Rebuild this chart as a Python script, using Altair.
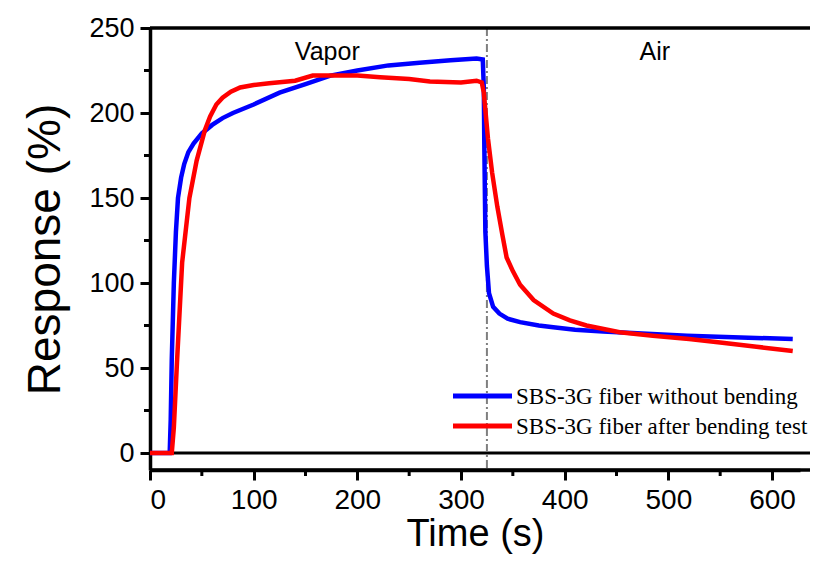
import altair as alt
import pandas as pd

# ---- data ----
blue_name = "SBS-3G fiber without bending"
red_name = "SBS-3G fiber after bending test"

blue_t = [0, 19, 20, 21, 23, 25, 27, 30, 33, 37, 42, 50, 60, 70, 80, 100, 125, 150, 174,
          200, 230, 260, 290, 315, 321, 322, 322.5, 323.5, 325, 327, 331, 337, 345, 357,
          375, 389, 410, 437, 470, 518, 570, 620]
blue_y = [0, 0, 20, 55, 100, 130, 150, 162, 170, 177, 182, 188, 193, 197, 200, 205, 212,
          217, 222, 225, 228, 229.5, 231, 232, 231.5, 215, 180, 130, 110, 94, 86, 82, 79, 77,
          75, 74, 72.5, 71.5, 70.5, 69, 68, 67]

red_t = [0, 21, 23, 26, 31, 38, 45, 53, 58, 64, 70, 78, 87, 100, 115, 140, 157, 174, 200,
         222, 250, 270, 300, 315, 320, 322, 323, 326, 330, 335, 340, 344, 350, 357, 370, 389,
         405, 421, 453, 485, 520, 550, 585, 620]
red_y = [0, 0, 15, 53, 112, 150, 172, 190, 198, 205, 209, 212.5, 215, 216.5, 217.5, 219,
         222, 222, 222, 221, 220, 218.5, 218, 219, 218, 212, 205, 185, 165, 145, 128, 115,
         107, 99, 90, 82, 78, 75, 71, 69, 67, 65, 62.5, 60]

x_ticks = [0, 100, 200, 300, 400, 500, 600]
y_ticks = [0, 50, 100, 150, 200, 250]
x_minor = [50, 150, 250, 350, 450, 550]
y_minor = [25, 75, 125, 175, 225]
switch_t = [325]
zero_level = [0]
annot_text = ["Vapor", "Air"]
annot_t = [171, 487]
annot_y = [231, 231]

# ---- tables ----
blue_df = pd.DataFrame({"t": blue_t, "r": blue_y, "s": blue_name})
red_df = pd.DataFrame({"t": red_t, "r": red_y, "s": red_name})
annot_df = pd.DataFrame({"label": annot_text, "t": annot_t, "r": annot_y})

W, H = 650, 442
EXT = 10  # frame lines run past the plotted range to the picture's edge
xscale = alt.Scale(domain=[0, 627], nice=False, zero=False)
yscale = alt.Scale(domain=[-10, 250], nice=False, zero=False)

axis_common = dict(
    domainColor="black", domainWidth=3.5, tickColor="black", tickWidth=3, tickSize=10,
    labelFont="Liberation Sans", labelColor="black", titleFont="Liberation Sans",
    titleColor="black", titleFontWeight="normal", grid=False,
)

xenc = alt.X("t:Q", scale=xscale, title="Time (s)",
             axis=alt.Axis(values=x_ticks, labelFontSize=28, titleFontSize=38,
                           labelPadding=6, titlePadding=1, **axis_common))
yenc = alt.Y("r:Q", scale=yscale, title="Response (%)",
             axis=alt.Axis(values=y_ticks, labelFontSize=27, titleFontSize=46,
                           labelPadding=6, titlePadding=19, **axis_common))

blue_line = alt.Chart(blue_df).mark_line(color="#0000ff", strokeWidth=4.5).encode(x=xenc, y=yenc)
red_line = alt.Chart(red_df).mark_line(color="#ff0000", strokeWidth=4.5).encode(x="t:Q", y="r:Q")

zero_rule = alt.Chart(pd.DataFrame({"r": zero_level})).mark_rule(
    color="black", strokeWidth=3).encode(y="r:Q", x=alt.value(0), x2=alt.value(W + EXT))

switch_rule = alt.Chart(pd.DataFrame({"t": switch_t})).mark_rule(
    color="#7f7f7f", strokeWidth=2, strokeDash=[8, 3, 2, 3]).encode(x="t:Q")

minor_x = alt.Chart(pd.DataFrame({"t": x_minor})).mark_rule(
    color="black", strokeWidth=3).encode(x="t:Q", y=alt.value(H), y2=alt.value(H + 6))
minor_y = alt.Chart(pd.DataFrame({"r": y_minor})).mark_rule(
    color="black", strokeWidth=3).encode(y="r:Q", x=alt.value(-6), x2=alt.value(0))

top_border = alt.Chart(pd.DataFrame({"r": zero_level})).mark_rule(
    color="black", strokeWidth=3.5).encode(x=alt.value(0), x2=alt.value(W + EXT), y=alt.value(0))
bottom_border = alt.Chart(pd.DataFrame({"r": zero_level})).mark_rule(
    color="black", strokeWidth=3.5).encode(x=alt.value(0), x2=alt.value(W + EXT), y=alt.value(H))

annots = alt.Chart(annot_df).mark_text(
    font="Liberation Sans", fontSize=25, color="black", align="center", baseline="alphabetic"
).encode(x="t:Q", y="r:Q", text="label:N")

# legend (manual, inside the plot)
leg_blue_line = alt.Chart(pd.DataFrame({"s": [blue_name]})).mark_rule(
    color="#0000ff", strokeWidth=5).encode(x=alt.value(303), x2=alt.value(362), y=alt.value(368))
leg_red_line = alt.Chart(pd.DataFrame({"s": [red_name]})).mark_rule(
    color="#ff0000", strokeWidth=5).encode(x=alt.value(303), x2=alt.value(362), y=alt.value(398))
leg_blue_text = alt.Chart(pd.DataFrame({"s": [blue_name]})).mark_text(
    font="Liberation Serif", fontSize=23, color="black", align="left", baseline="middle"
).encode(x=alt.value(366), y=alt.value(369), text="s:N")
leg_red_text = alt.Chart(pd.DataFrame({"s": [red_name]})).mark_text(
    font="Liberation Serif", fontSize=23, color="black", align="left", baseline="middle"
).encode(x=alt.value(366), y=alt.value(399), text="s:N")

chart = alt.layer(
    zero_rule, switch_rule, blue_line, red_line, minor_x, minor_y, top_border, bottom_border,
    annots, leg_blue_line, leg_red_line, leg_blue_text, leg_red_text,
).properties(
    width=W, height=H,
    padding={"left": 142, "top": 20, "right": 10, "bottom": 84},
    autosize=alt.AutoSizeParams(type="none"),
    background="white",
).configure_view(stroke="transparent", strokeWidth=0)

chart.save("out.html", embed_options={"renderer": "svg", "actions": False})
